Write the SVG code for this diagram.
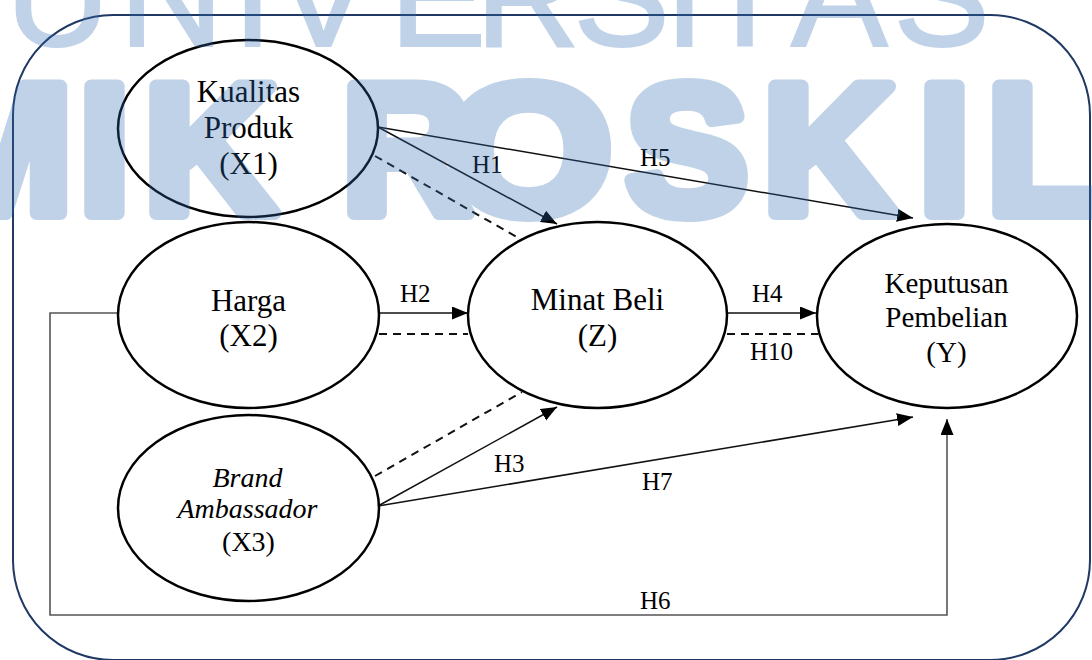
<svg xmlns="http://www.w3.org/2000/svg" width="1092" height="660" viewBox="0 0 1092 660">
<style>
.node ellipse{fill:none;stroke:#000;stroke-width:2.5}
.t{fill:#000;text-anchor:middle}
.lbl{font-size:25px;fill:#000}
.ln{fill:none;stroke:#111;stroke-width:1.5}
.dash{fill:none;stroke:#111;stroke-width:2;stroke-dasharray:8 6}
.gray{fill:none;stroke:#555;stroke-width:1.6}
</style>
<defs>
<marker id="ah" markerUnits="userSpaceOnUse" markerWidth="18" markerHeight="14" refX="16" refY="6.5" orient="auto">
<path d="M0,0 L16,6.5 L0,13 z" fill="#000"/>
</marker>
</defs>
<rect width="1092" height="660" fill="#fff"/>
<rect id="frame" x="13" y="15" width="1077" height="645" rx="100" ry="100" fill="none" stroke="#1f3864" stroke-width="2"/>
<g id="connectors" font-family="Liberation Serif, serif">
<line class="ln" x1="378" y1="127" x2="557" y2="224" marker-end="url(#ah)"/>
<line class="ln" x1="378" y1="127" x2="913" y2="218" marker-end="url(#ah)"/>
<line class="dash" x1="375" y1="156" x2="522" y2="240"/>
<line class="ln" x1="379" y1="313" x2="468" y2="313" marker-end="url(#ah)"/>
<line class="dash" x1="379" y1="334" x2="468" y2="334"/>
<line class="ln" x1="727" y1="313" x2="816" y2="313" marker-end="url(#ah)"/>
<line class="dash" x1="727" y1="334" x2="818" y2="334"/>
<line class="ln" x1="378" y1="506" x2="557" y2="407" marker-end="url(#ah)"/>
<line class="dash" x1="375" y1="476" x2="522" y2="392"/>
<line class="ln" x1="378" y1="506" x2="913" y2="417" marker-end="url(#ah)"/>
<polyline class="gray" points="118,313 50,313 50,615 947,615 947,419" marker-end="url(#ah)"/>
<text class="lbl" x="472" y="173">H1</text>
<text class="lbl" x="640" y="166">H5</text>
<text class="lbl" x="400" y="302">H2</text>
<text class="lbl" x="752" y="302">H4</text>
<text class="lbl" x="750" y="360">H10</text>
<text class="lbl" x="494" y="472">H3</text>
<text class="lbl" x="642" y="490">H7</text>
<text class="lbl" x="640" y="609">H6</text>
</g>
<g id="nodes" font-family="Liberation Serif, serif">
<g id="x1" class="node">
<ellipse cx="248" cy="128.5" rx="130" ry="88.5"/>
<text class="t" font-size="31" x="248.5" y="102">Kualitas</text>
<text class="t" font-size="31" x="248.5" y="138">Produk</text>
<text class="t" font-size="31" x="248.5" y="174">(X1)</text>
</g>
<g id="x2" class="node">
<ellipse cx="248.5" cy="315" rx="130.5" ry="93"/>
<text class="t" font-size="31" x="248.5" y="311">Harga</text>
<text class="t" font-size="31" x="248.5" y="346">(X2)</text>
</g>
<g id="x3" class="node">
<ellipse cx="248.5" cy="508" rx="130.5" ry="93"/>
<text class="t" font-size="28" font-style="italic" x="247.5" y="487">Brand</text>
<text class="t" font-size="28" font-style="italic" x="247.5" y="518">Ambassador</text>
<text class="t" font-size="28" x="248.5" y="551">(X3)</text>
</g>
<g id="z" class="node">
<ellipse cx="597.5" cy="315" rx="129.5" ry="93"/>
<text class="t" font-size="31" x="597.5" y="310">Minat Beli</text>
<text class="t" font-size="31" x="597.5" y="346">(Z)</text>
</g>
<g id="y" class="node">
<ellipse cx="947" cy="316" rx="130" ry="92"/>
<text class="t" font-size="29" x="946.5" y="293">Keputusan</text>
<text class="t" font-size="29" x="946.5" y="327">Pembelian</text>
<text class="t" font-size="29" x="946.5" y="362">(Y)</text>
</g>
</g>
<g id="watermark" opacity="0.3" fill="rgb(50,110,180)" stroke="rgb(50,110,180)" font-family="Liberation Sans, sans-serif">
<text font-size="145" stroke-width="2" x="5.5 119 232.4 275.3 389.5 475.3 573.2 664.4 700.8 791 893.2" y="46">UNIVERSITAS</text>
<g font-weight="bold" font-size="183" stroke-width="14" stroke-linejoin="round">
<text x="-80" y="213">M</text>
<text x="79" y="213">I</text>
<text x="144" y="213">K</text>
<text x="342" y="213" textLength="130" lengthAdjust="spacingAndGlyphs">R</text>
<text x="446" y="213" textLength="166" lengthAdjust="spacingAndGlyphs">O</text>
<text x="626" y="213">S</text>
<text x="763" y="213">K</text>
<text x="919" y="213">I</text>
<text x="987" y="213">L</text>
</g>
</g>
</svg>
